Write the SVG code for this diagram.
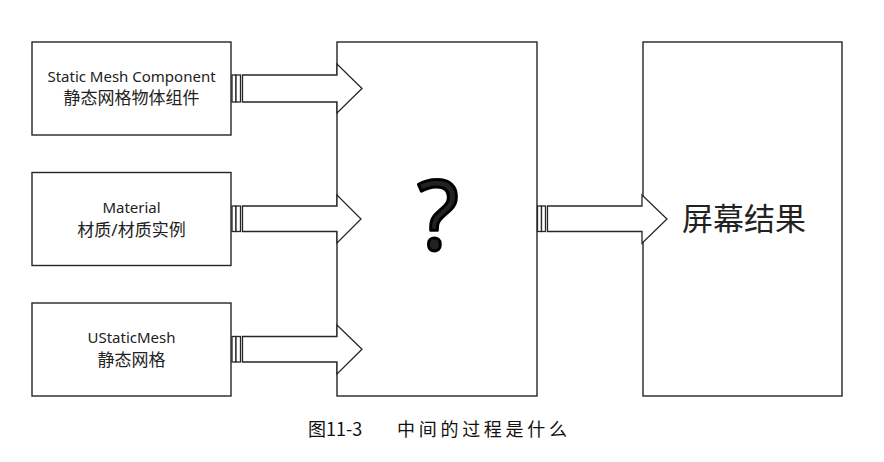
<svg xmlns="http://www.w3.org/2000/svg" width="884" height="462" viewBox="0 0 884 462">
<style>
.box{fill:#fff;stroke:#262626;stroke-width:1.4}
.arr{fill:#fff;stroke:#262626;stroke-width:1.3;stroke-linejoin:miter}
.t{font-family:"Noto Sans","Noto Sans CJK SC",sans-serif;fill:#222;text-anchor:middle}
.lat{font-size:15px}
.cjk{font-size:17px}
.cap{font-family:"Noto Sans CJK SC",sans-serif;font-size:18px;fill:#111}
</style>
<rect width="884" height="462" fill="#fff"/>
<g id="node-smc">
<rect class="box" x="32" y="42" width="199" height="93"/>
<text class="t lat" x="131.5" y="82">Static Mesh Component</text>
<text class="t cjk" x="131.5" y="104">静态网格物体组件</text>
</g>
<g id="node-material">
<rect class="box" x="32" y="172.5" width="199" height="93"/>
<text class="t lat" x="131.5" y="213">Material</text>
<text class="t cjk" x="131.5" y="236">材质/材质实例</text>
</g>
<g id="node-usm">
<rect class="box" x="32" y="303" width="199" height="93"/>
<text class="t lat" x="131.5" y="343">UStaticMesh</text>
<text class="t cjk" x="131.5" y="366">静态网格</text>
</g>
<g id="node-process">
<rect class="box" x="337" y="42" width="200" height="354"/>
<text class="t" x="438" y="250" font-size="96" fill="#000" stroke="#000" stroke-width="3" stroke-linejoin="round">?</text>
</g>
<g id="node-screen">
<rect class="box" x="643" y="42" width="199" height="354"/>
<text class="t" x="744" y="230" font-size="31" fill="#111">屏幕结果</text>
</g>
<g id="connectors">
<g id="arrow-1">
<rect class="arr" x="232" y="75" width="4" height="27"/>
<rect class="arr" x="236" y="75" width="4.5" height="27"/>
<polygon class="arr" points="242.5,75 337,75 337,64 362,88.5 337,113 337,102 242.5,102"/>
</g>
<g id="arrow-2">
<rect class="arr" x="232" y="206" width="4" height="25.5"/>
<rect class="arr" x="236" y="206" width="4.5" height="25.5"/>
<polygon class="arr" points="242.5,206 337,206 337,195 361,219 337,243 337,231.5 242.5,231.5"/>
</g>
<g id="arrow-3">
<rect class="arr" x="232" y="336.5" width="4" height="25.5"/>
<rect class="arr" x="236" y="336.5" width="4.5" height="25.5"/>
<polygon class="arr" points="242.5,336.5 337,336.5 337,325 362,349.3 337,374 337,362 242.5,362"/>
</g>
<g id="arrow-4">
<rect class="arr" x="537.5" y="206" width="4" height="25.5"/>
<rect class="arr" x="541.5" y="206" width="4" height="25.5"/>
<polygon class="arr" points="547.5,206 642,206 642,195 667,219 642,243.3 642,231.5 547.5,231.5"/>
</g>
</g>
<text class="cap" x="308" y="436">图11-3</text>
<text class="cap" x="397" y="436" textLength="170" lengthAdjust="spacing">中间的过程是什么</text>
</svg>
